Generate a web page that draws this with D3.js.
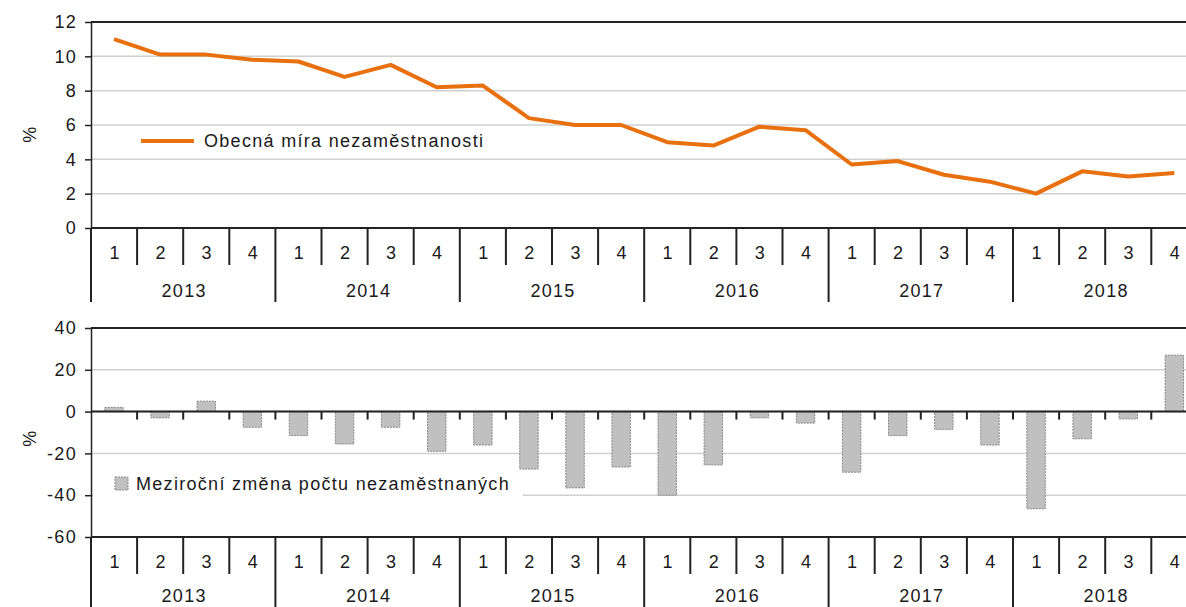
<!DOCTYPE html>
<html>
<head>
<meta charset="utf-8">
<script src="https://cdn.jsdelivr.net/npm/d3@7"></script>
<style>
  body { margin: 0; background: #fff; }
  svg { display: block; font-family: "Liberation Sans", Arial, sans-serif; }
  svg text { letter-spacing: 1.3px; }
  .grid line { stroke: #d0d0d0; stroke-width: 1.5; }
  .axis path, .axis line { stroke: #222; stroke-width: 1.5; }
  .axis text { fill: #1a1a1a; font-size: 18px; }
</style>
</head>
<body>
<div id="wrapper"></div>
<script>
const years = ["2013", "2014", "2015", "2016", "2017", "2018"]
const quarters = ["1", "2", "3", "4"]
const unemploymentRate = [11.0, 10.1, 10.1, 9.8, 9.7, 8.8, 9.5, 8.2, 8.3, 6.4, 6.0, 6.0,
  5.0, 4.8, 5.9, 5.7, 3.7, 3.9, 3.1, 2.7, 2.0, 3.3, 3.0, 3.2]
const yearOnYearChange = [2, -3, 5, -7.5, -11.5, -15.5, -7.5, -19, -16, -27.5, -36.5, -26.5,
  -40, -25.5, -3, -5.5, -29, -11.5, -8.5, -16, -46.5, -13, -3.5, 27]
const topTicks = [0, 2, 4, 6, 8, 10, 12]
const bottomTicks = [-60, -40, -20, 0, 20, 40]

const lineLabel = "Obecná míra nezaměstnanosti"
const barLabel = "Meziroční změna počtu nezaměstnaných"

const keys = years.flatMap(y => quarters.map(q => `${y}-${q}`))

const dimensions = { width: 1186, height: 607, left: 91, bandWidth: 46.1 }

const svg = d3.select("#wrapper").append("svg")
  .attr("width", dimensions.width)
  .attr("height", dimensions.height)

const xScale = d3.scaleBand()
  .domain(keys)
  .range([dimensions.left, dimensions.left + keys.length * dimensions.bandWidth])

const barBand = d3.scaleBand()
  .domain(keys)
  .range(xScale.range())
  .paddingInner(0.6)
  .paddingOuter(0.3)

// draws the two level category axis (quarters, years) below a chart
function categoryAxis(g, top, quarterLen, yearLen, quarterY, yearY) {
  g.append("line")
    .attr("x1", dimensions.left).attr("x2", dimensions.width)
    .attr("y1", top).attr("y2", top)
    .attr("stroke", "#222").attr("stroke-width", 2)
  keys.forEach((k, i) => {
    const x = xScale(k)
    const isYear = i % 4 === 0
    g.append("line")
      .attr("x1", x).attr("x2", x)
      .attr("y1", top).attr("y2", top + (isYear ? yearLen : quarterLen))
      .attr("stroke", "#222").attr("stroke-width", 2)
    g.append("text")
      .attr("x", x + xScale.bandwidth() / 2 + 1)
      .attr("y", quarterY)
      .attr("text-anchor", "middle")
      .attr("font-size", 18).attr("fill", "#1a1a1a")
      .text(k.split("-")[1])
  })
  years.forEach(y => {
    const x0 = xScale(`${y}-1`)
    const x1 = xScale(`${y}-4`) + xScale.bandwidth()
    g.append("text")
      .attr("x", (x0 + x1) / 2 + 1)
      .attr("y", yearY)
      .attr("text-anchor", "middle")
      .attr("font-size", 18).attr("fill", "#1a1a1a")
      .text(y)
  })
}

function drawFrame(yScale, ticks, titleY) {
  const g = svg.append("g")
  g.append("g").attr("class", "grid")
    .selectAll("line")
    .data(ticks.slice(1, -1))
    .enter().append("line")
      .attr("x1", dimensions.left).attr("x2", dimensions.width)
      .attr("y1", d => yScale(d)).attr("y2", d => yScale(d))
  const top = yScale(ticks[ticks.length - 1])
  g.append("line")
    .attr("x1", dimensions.left).attr("x2", dimensions.width)
    .attr("y1", top).attr("y2", top)
    .attr("stroke", "#222").attr("stroke-width", 2)
  g.append("g")
    .attr("class", "axis")
    .attr("transform", `translate(${dimensions.left},0)`)
    .call(d3.axisLeft(yScale).tickValues(ticks).tickFormat(d => String(d))
      .tickSize(6).tickSizeOuter(0).tickPadding(8))
  g.append("text")
    .attr("transform", `translate(36,${titleY}) rotate(-90)`)
    .attr("text-anchor", "middle")
    .attr("font-size", 18).attr("fill", "#1a1a1a")
    .text("%")
  return g
}

// top chart: line
const yTop = d3.scaleLinear().domain([0, 12]).range([228, 22])
drawFrame(yTop, topTicks, 134)
categoryAxis(svg.append("g"), yTop(0), 37, 74, 259, 297)

const line = d3.line()
  .x((d, i) => xScale(keys[i]) + xScale.bandwidth() / 2)
  .y(d => yTop(d))

svg.append("path")
  .datum(unemploymentRate)
  .attr("d", line)
  .attr("fill", "none")
  .attr("stroke", "#E8700F")
  .attr("stroke-width", 4)
  .attr("stroke-linejoin", "round")

svg.append("line")
  .attr("x1", 141).attr("x2", 194)
  .attr("y1", 141).attr("y2", 141)
  .attr("stroke", "#E8700F").attr("stroke-width", 4)
svg.append("text")
  .attr("x", 204).attr("y", 147)
  .attr("font-size", 18).attr("fill", "#1a1a1a")
  .text(lineLabel)

// bottom chart: bars
const yBottom = d3.scaleLinear().domain([-60, 40]).range([537, 328])
drawFrame(yBottom, bottomTicks, 438)

// legend box hides part of the -40 gridline
svg.append("rect")
  .attr("x", 93).attr("y", 462)
  .attr("width", 430).attr("height", 48)
  .attr("fill", "#fff")

svg.append("g")
  .selectAll("rect")
  .data(yearOnYearChange)
  .enter().append("rect")
    .attr("x", (d, i) => barBand(keys[i]))
    .attr("width", barBand.bandwidth())
    .attr("y", d => yBottom(Math.max(0, d)))
    .attr("height", d => Math.abs(yBottom(d) - yBottom(0)))
    .attr("fill", "#c0c0c0")
    .attr("stroke", "#8a8a8a")
    .attr("stroke-width", 1)
    .attr("stroke-dasharray", "2,1")

// zero line with small ticks
const zeroY = yBottom(0)
svg.append("line")
  .attr("x1", dimensions.left).attr("x2", dimensions.width)
  .attr("y1", zeroY).attr("y2", zeroY)
  .attr("stroke", "#222").attr("stroke-width", 2)
svg.append("g")
  .selectAll("line")
  .data(keys.slice(1))
  .enter().append("line")
    .attr("x1", d => xScale(d)).attr("x2", d => xScale(d))
    .attr("y1", zeroY).attr("y2", zeroY + 8)
    .attr("stroke", "#222").attr("stroke-width", 2)

categoryAxis(svg.append("g"), yBottom(-60), 37, 74, 568, 602)

svg.append("rect")
  .attr("x", 115).attr("y", 477)
  .attr("width", 13).attr("height", 13)
  .attr("fill", "#c0c0c0")
  .attr("stroke", "#8a8a8a")
  .attr("stroke-dasharray", "2,1")
svg.append("text")
  .attr("x", 136).attr("y", 490)
  .attr("font-size", 18).attr("fill", "#1a1a1a")
  .text(barLabel)
</script>
</body>
</html>
